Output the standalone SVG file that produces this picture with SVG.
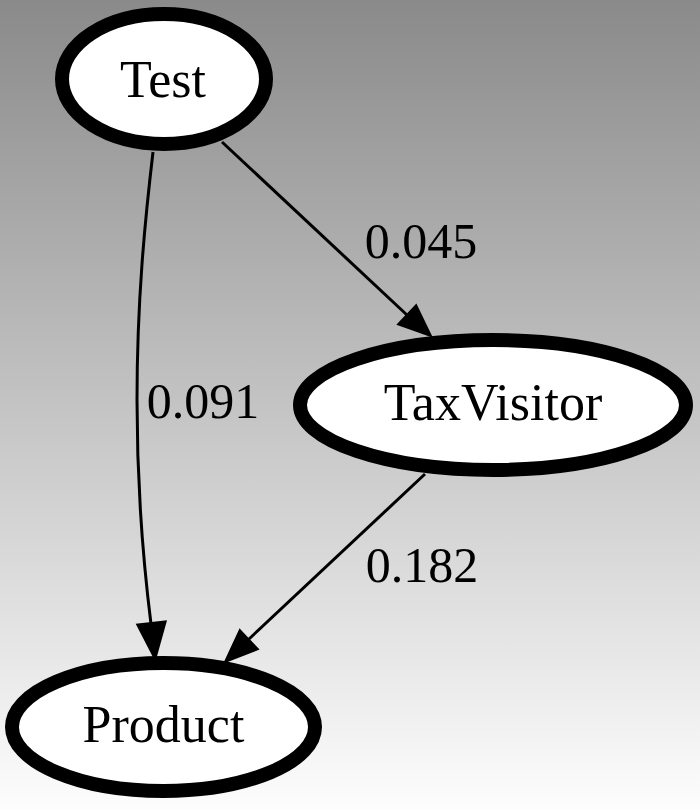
<svg xmlns="http://www.w3.org/2000/svg" width="700" height="809" viewBox="0 0 700 809">
<defs>
<linearGradient id="bg" x1="0" y1="0" x2="0" y2="1">
<stop offset="0" stop-color="#8a8a8a"/>
<stop offset="1" stop-color="#fdfdfd"/>
</linearGradient>
</defs>
<style>
.node ellipse{fill:#ffffff;stroke:#000000;stroke-width:14}
.node text,.lbl{font-family:"Liberation Serif","Times New Roman",serif;fill:#000000;text-anchor:middle}
.node text{font-size:52px}
.lbl{font-size:50px}
.edge path{fill:none;stroke:#000000;stroke-width:3}
.edge polygon{fill:#000000;stroke:#000000;stroke-width:3;stroke-linejoin:miter}
</style>
<rect x="0" y="0" width="700" height="809" fill="url(#bg)"/>
<g id="edges">
<g class="edge" id="e_test_tax">
<path d="M222,142 L407,315"/>
<polygon points="399,324 416,306 430,335"/>
</g>
<g class="edge" id="e_test_prod">
<path d="M153,152 C145,220 137,300 137,400 C137,480 143,560 151,624"/>
<polygon points="138,625 165,622 155,658"/>
</g>
<g class="edge" id="e_tax_prod">
<path d="M425,474 L249,639"/>
<polygon points="240,631 257,649 226,661"/>
</g>
<text class="lbl" x="421" y="258">0.045</text>
<text class="lbl" x="203" y="418">0.091</text>
<text class="lbl" x="422" y="582">0.182</text>
</g>
<g class="node" id="Test">
<ellipse cx="164" cy="79" rx="102" ry="65"/>
<text x="163" y="97">Test</text>
</g>
<g class="node" id="TaxVisitor">
<ellipse cx="493" cy="405" rx="193" ry="65"/>
<text x="493" y="420">TaxVisitor</text>
</g>
<g class="node" id="Product">
<ellipse cx="163.5" cy="727" rx="151.5" ry="64"/>
<text x="163.5" y="742">Product</text>
</g>
</svg>
